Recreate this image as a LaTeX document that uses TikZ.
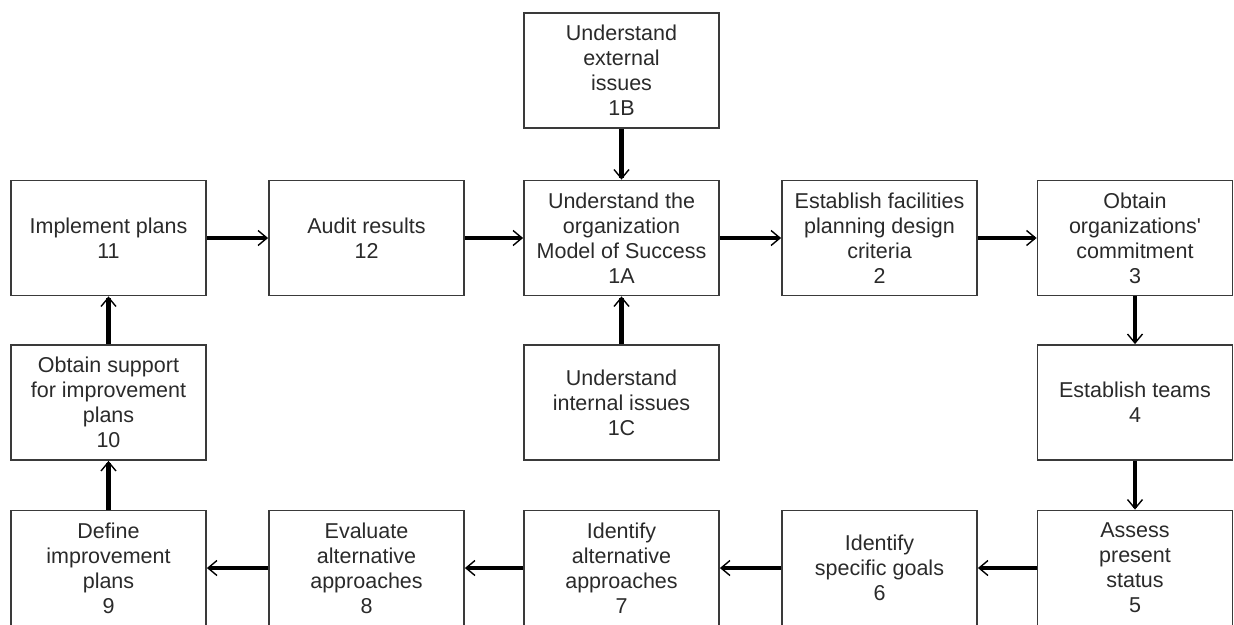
\documentclass[tikz,border=0pt]{standalone}
\usepackage{fontspec}
\setmainfont{Liberation Sans}[Ligatures=TeXOff]
\usetikzlibrary{arrows.meta}
\definecolor{txt}{HTML}{2A2A2A}
\definecolor{edge}{HTML}{3A3A3A}
\begin{document}
\begin{tikzpicture}[x=1pt,y=-1pt,
  box/.style={draw=edge,line width=1.8pt,minimum width=195pt,minimum height=115pt,inner sep=2pt,
    align=center,text=txt,font=\fontsize{21.5}{25}\selectfont},
  flow/.style={line width=4.5pt,black,-{Straight Barb[length=9pt,width=15pt,line width=1.4pt]}}]
\useasboundingbox (0,0) rectangle (1234,624);
\node[box] (b1B) at (621.5,70.5) {Understand\\external\\issues\\1B};
\node[box] (b11) at (108.5,238) {Implement plans\\11};
\node[box] (b12) at (366.5,238) {Audit results\\12};
\node[box] (b1A) at (621.5,238) {Understand the\\organization\\Model of Success\\1A};
\node[box] (b2) at (879.5,238) {Establish facilities\\planning design\\criteria\\2};
\node[box] (b3) at (1135,238) {Obtain\\organizations'\\commitment\\3};
\node[box] (b10) at (108.5,402.5) {Obtain support\\for improvement\\plans\\10};
\node[box] (b1C) at (621.5,402.5) {Understand\\internal issues\\1C};
\node[box] (b4) at (1135,402.5) {Establish teams\\4};
\node[box] (b9) at (108.5,568) {Define\\improvement\\plans\\9};
\node[box] (b8) at (366.5,568) {Evaluate\\alternative\\approaches\\8};
\node[box] (b7) at (621.5,568) {Identify\\alternative\\approaches\\7};
\node[box] (b6) at (879.5,568) {Identify\\specific goals\\6};
\node[box] (b5) at (1135,568) {Assess\\present\\status\\5};
\draw[flow] (b11.east) -- (b12.west);
\draw[flow] (b12.east) -- (b1A.west);
\draw[flow] (b1A.east) -- (b2.west);
\draw[flow] (b2.east) -- (b3.west);
\draw[flow] (b1B.south) -- (b1A.north);
\draw[flow] (b1C.north) -- (b1A.south);
\draw[flow] (b3.south) -- (b4.north);
\draw[flow] (b4.south) -- (b5.north);
\draw[flow] (b5.west) -- (b6.east);
\draw[flow] (b6.west) -- (b7.east);
\draw[flow] (b7.west) -- (b8.east);
\draw[flow] (b8.west) -- (b9.east);
\draw[flow] (b9.north) -- (b10.south);
\draw[flow] (b10.north) -- (b11.south);
\end{tikzpicture}
\end{document}
